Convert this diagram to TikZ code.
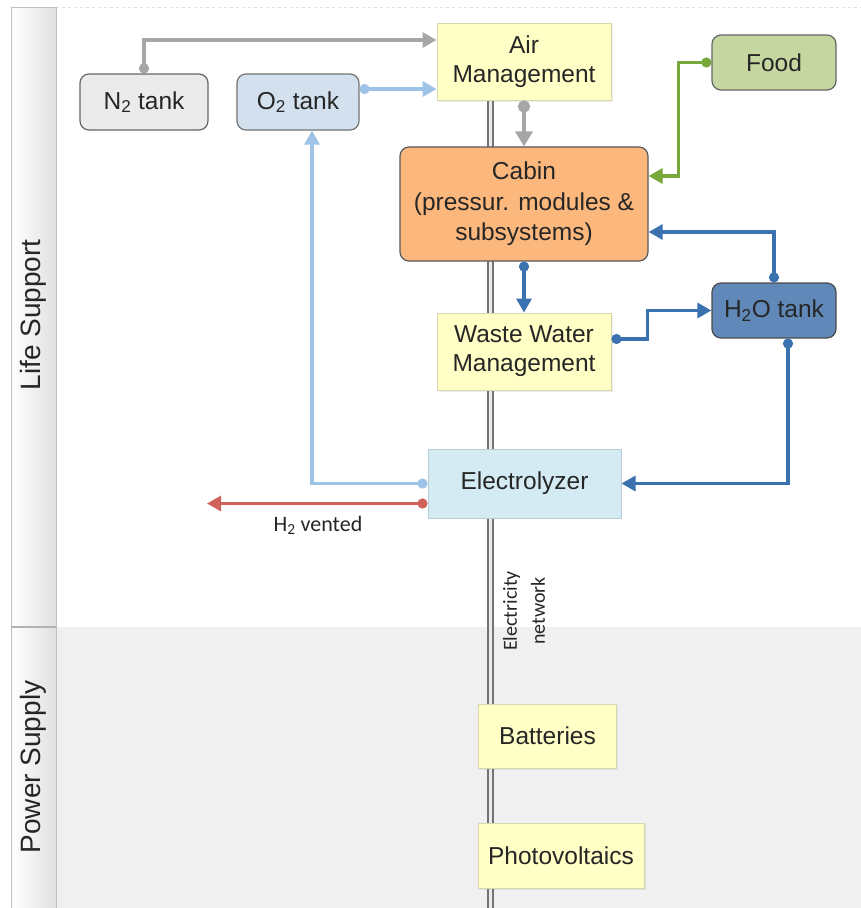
\documentclass[tikz,border=0pt]{standalone}
\usepackage{fontspec}
\setmainfont{Liberation Sans}
\newfontfamily\carlito{Carlito}
\usetikzlibrary{arrows.meta,shadows}
\definecolor{yel}{HTML}{FFFFC6}
\definecolor{yelb}{HTML}{D8D8B0}
\definecolor{cgray}{HTML}{A6A6A6}
\definecolor{lblue}{HTML}{9DC3E6}
\definecolor{dblue}{HTML}{3A72B0}
\definecolor{cgreen}{HTML}{77A83A}
\definecolor{cred}{HTML}{D0605A}
\definecolor{psbg}{HTML}{F0F0F0}
\tikzset{
  x=1pt,y=-1pt,
  box/.style={draw, line width=1pt, align=center, inner sep=0pt,
    font=\fontsize{24.5}{29}\selectfont, text=black!85},
  yelbox/.style={box, fill=yel, draw=yelb, drop shadow={shadow xshift=1.5pt,shadow yshift=-1.5pt,opacity=0.15}},
  tank/.style={box, rounded corners=9pt, line width=1.2pt},
  conn/.style={line width=3.2pt, {Circle[length=10pt]}-{Triangle[length=14pt,width=15pt]}},
  lane/.style={rotate=90, font=\fontsize{28}{32}\selectfont, text=black!85},
}
\begin{document}
\begin{tikzpicture}
\useasboundingbox (0,0) rectangle (861,908);
\fill[white] (0,0) rectangle (861,908);
% lanes
\fill[psbg] (56,627) rectangle (861,908);
\draw[black!12, dashed, line width=0.8pt] (56,7) -- (861,7);
\shade[left color=white, right color=black!12] (11,7) rectangle (56,908);
\draw[black!25, line width=1pt] (11,908) -- (11,7) -- (56,7) -- (56,908);
\draw[black!30, line width=1.2pt] (11,627) -- (56,627);
\node[lane] (ls) at (33,315) {Life Support};
\node[lane] (ps) at (33,767) {Power Supply};
% electricity bus
\coordinate (bustop) at (490.5,100);
\coordinate (busbot) at (490.5,908);
\draw[black!55, double=white!92!black, double distance=3pt, line width=1.9pt] (bustop) -- (busbot);
\node[rotate=90, align=center, font=\carlito\fontsize{20}{28}\selectfont, text=black!85] (en) at (524,611) {Electricity\\network};
% nodes
\node[yelbox, minimum width=174pt, minimum height=77pt] (air) at (524,61.5) {Air\\Management};
\node[tank, fill=black!8, draw=black!60, minimum width=128pt, minimum height=56pt] (n2) at (144,102) {N\textsubscript{2} tank};
\node[tank, fill={rgb,255:red,211;green,225;blue,239}, draw=black!55, minimum width=122pt, minimum height=56pt] (o2) at (298,102) {O\textsubscript{2} tank};
\node[tank, fill={rgb,255:red,197;green,214;blue,160}, draw=black!60, minimum width=124pt, minimum height=55pt] (food) at (774,62.5) {Food};
\node[box, rounded corners=9pt, line width=1.2pt, fill={rgb,255:red,251;green,183;blue,124}, draw=black!65, minimum width=248pt, minimum height=114pt, font=\fontsize{24.5}{30.5}\selectfont] (cabin) at (524,204) {Cabin\\(pressur. modules \&\\subsystems)};
\node[tank, fill={rgb,255:red,96;green,136;blue,184}, draw=black!70, minimum width=124pt, minimum height=55pt] (h2o) at (774,310.5) {H\textsubscript{2}O tank};
\node[yelbox, minimum width=174pt, minimum height=77pt] (wwm) at (524,351.5) {Waste Water\\Management};
\node[box, fill={rgb,255:red,212;green,235;blue,243}, draw={rgb,255:red,185;green,205;blue,212}, minimum width=193pt, minimum height=69pt] (elec) at (524.5,483.5) {Electrolyzer};
\node[yelbox, minimum width=138pt, minimum height=64pt] (bat) at (547.5,736) {Batteries};
\node[yelbox, minimum width=166pt, minimum height=65pt] (pv) at (561,855.5) {Photovoltaics};
% connectors
\draw[conn, cgray] (n2.north) |- ([yshift=21.5pt]air.west);
\draw[conn, lblue] ([yshift=13pt]o2.east) coordinate (o2e) -- (o2e -| air.west);
\draw[conn, cgray, line width=4.5pt, {Circle[length=12pt]}-{Triangle[length=15pt,width=17pt]}] (air.south) -- (cabin.north);
\draw[conn, cgreen] (food.west) -- ++(-33,0) |- ([yshift=28pt]cabin.east);
\draw[conn, dblue] (h2o.north) |- ([yshift=-28pt]cabin.east);
\draw[conn, dblue] (cabin.south) -- (wwm.north);
\draw[conn, dblue] ([yshift=12.5pt]wwm.east) -- ++(36,0) |- (h2o.west);
\draw[conn, dblue] ([xshift=14pt]h2o.south) |- (elec.east);
\draw[conn, lblue] (elec.west) -| ([xshift=14pt]o2.south);
\coordinate (vent) at (207,503.5);
\draw[conn, cred] ([yshift=-20pt]elec.west) -- (vent);
\node[font=\carlito\fontsize{22}{26}\selectfont, text=black!85] (h2lbl) at (318,525) {H\textsubscript{2} vented};
\end{tikzpicture}
\end{document}
